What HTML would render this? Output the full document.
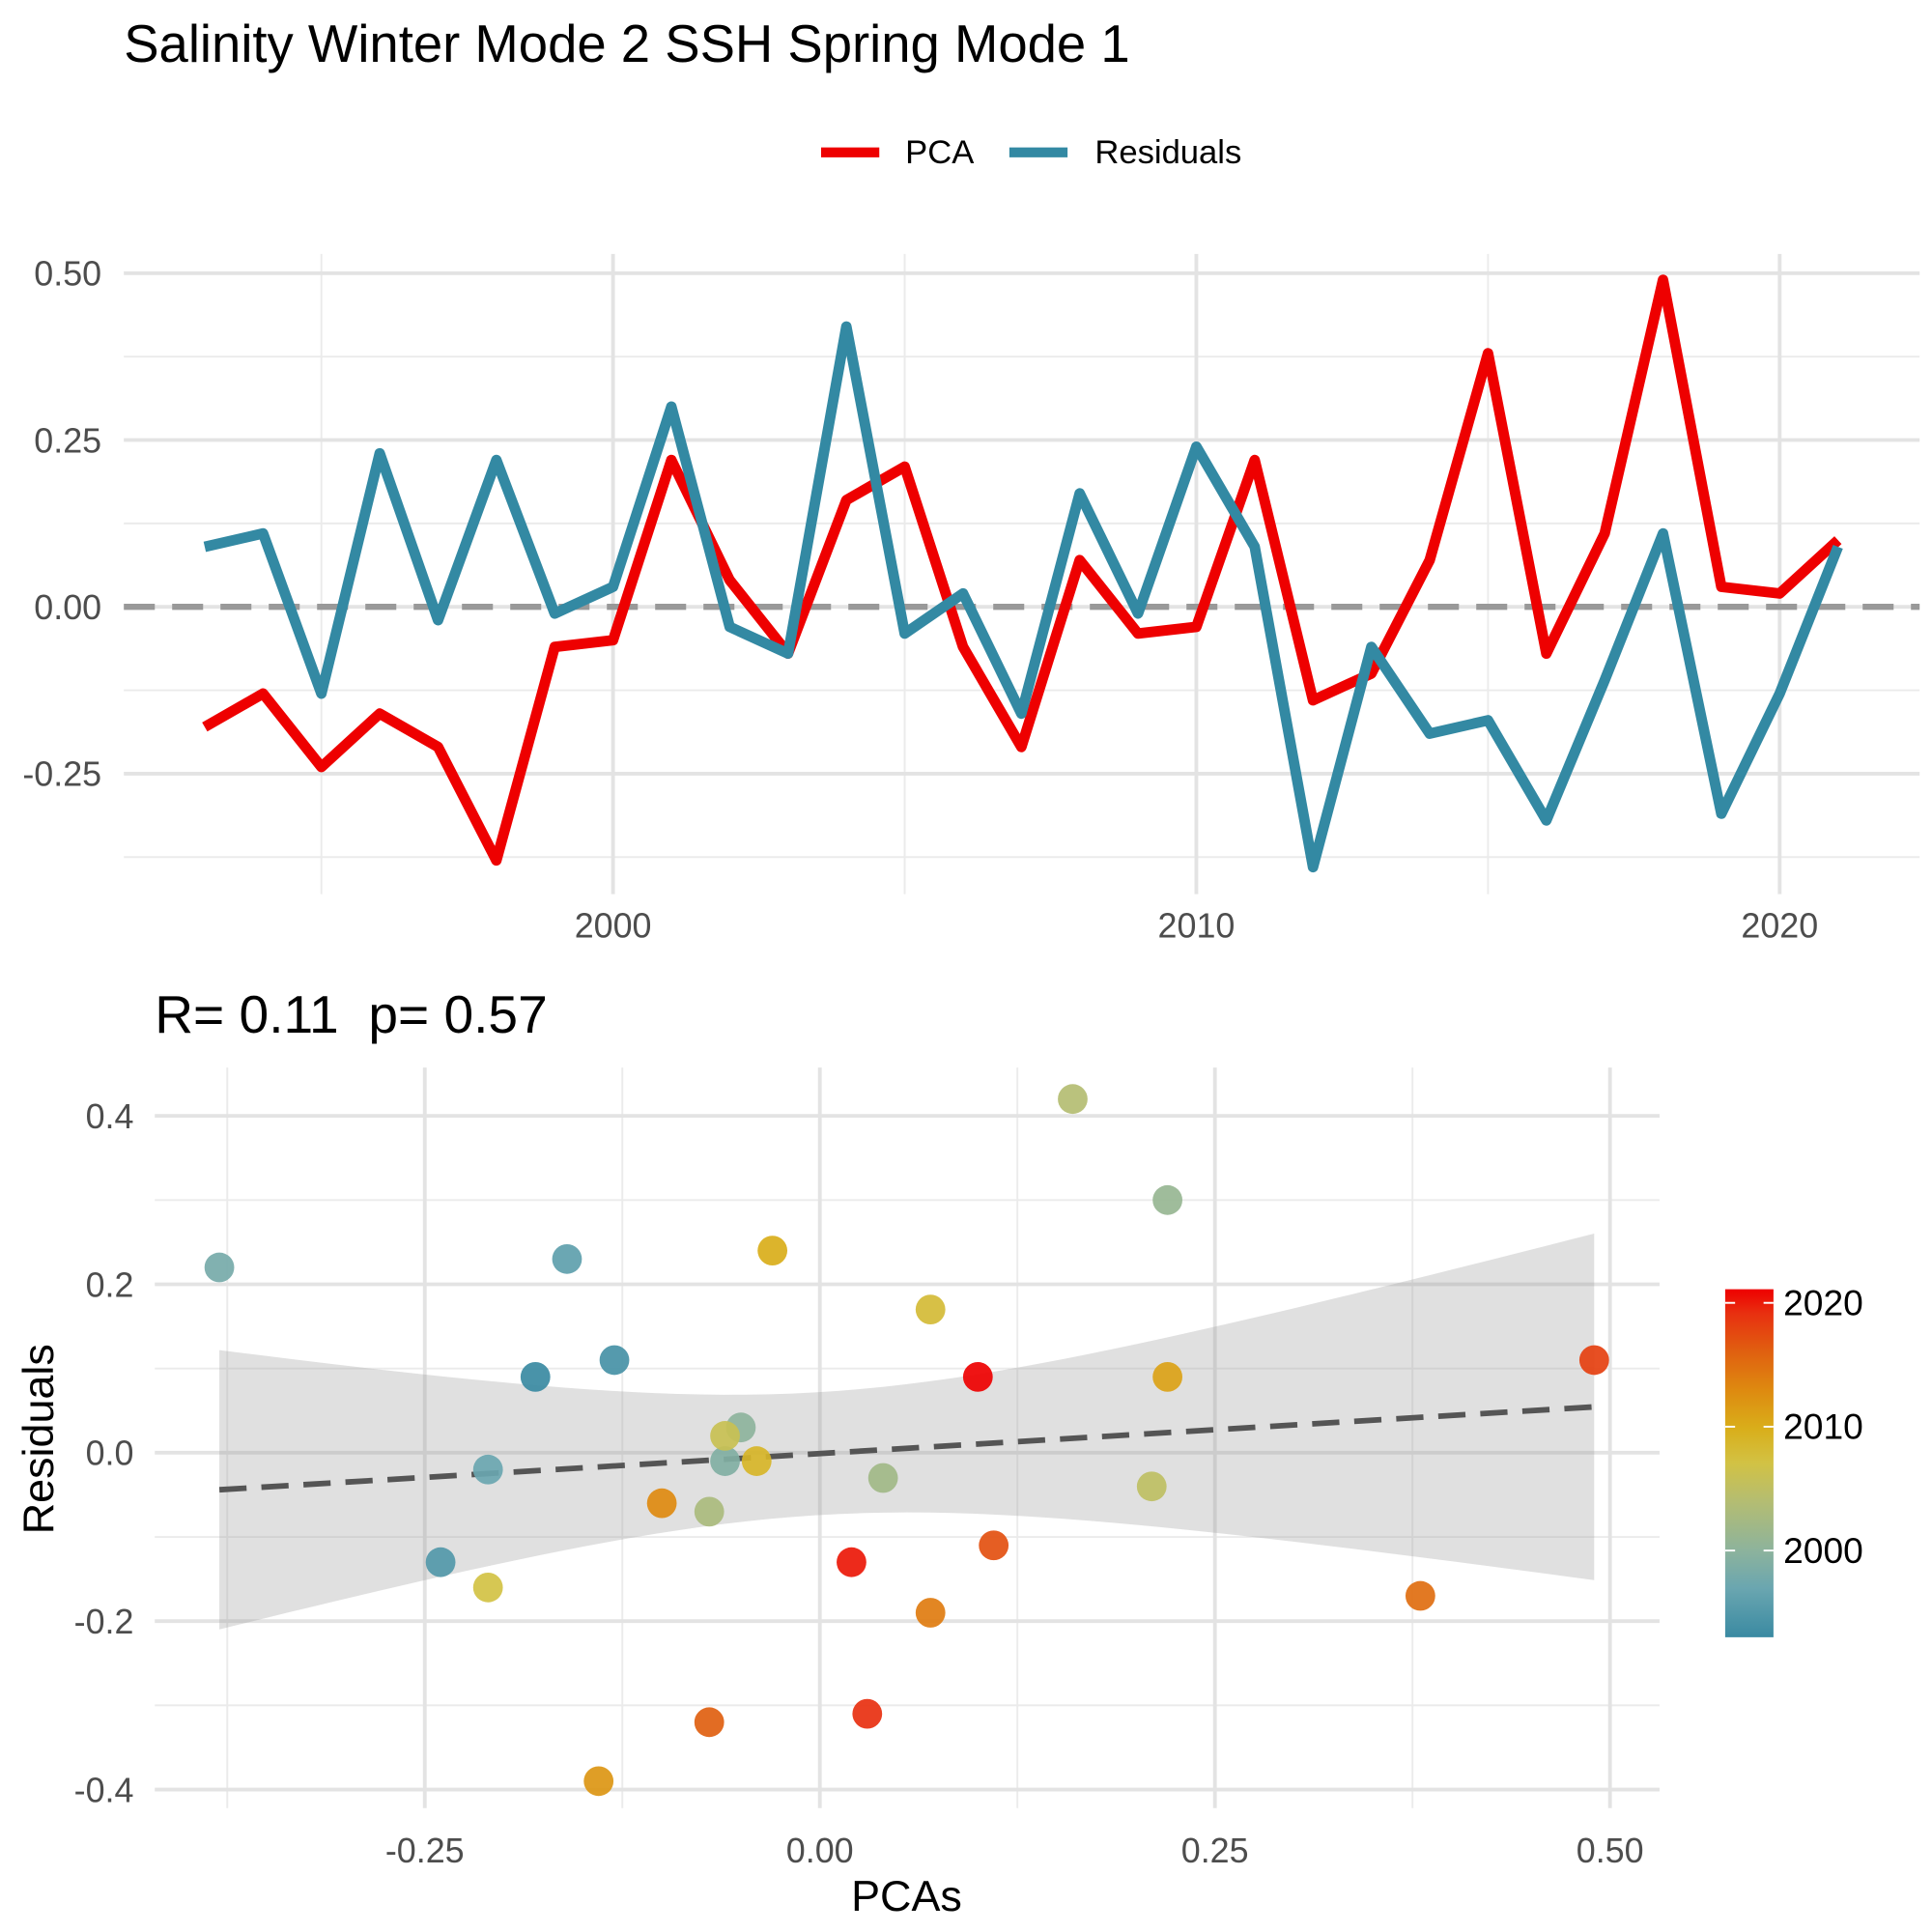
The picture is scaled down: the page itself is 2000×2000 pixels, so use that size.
<!DOCTYPE html>
<html><head><meta charset="utf-8"><style>
html,body{margin:0;padding:0;background:#fff}
svg{display:block;font-family:"Liberation Sans",Arial,sans-serif}
</style></head><body>
<svg id="fig" width="2000" height="2000" viewBox="0 0 1560 1560" xmlns="http://www.w3.org/2000/svg">
<defs>
<linearGradient id="cbar" x1="0" y1="1" x2="0" y2="0">
<stop offset="0" stop-color="#3A8AA2"/><stop offset="0.14" stop-color="#6AA6B0"/><stop offset="0.25" stop-color="#8DB39C"/><stop offset="0.39" stop-color="#B4BD72"/><stop offset="0.5" stop-color="#D2C244"/><stop offset="0.6" stop-color="#D9AE1A"/><stop offset="0.71" stop-color="#DE8A10"/><stop offset="0.82" stop-color="#E06010"/><stop offset="0.93" stop-color="#E83010"/><stop offset="1" stop-color="#EE0000"/>
</linearGradient>
<clipPath id="topclip"><rect x="100" y="200" width="1450" height="525"/></clipPath>
</defs>
<text x="100" y="50" font-size="42.5" fill="#000">Salinity Winter Mode 2 SSH Spring Mode 1</text>
<g>
<line x1="663" y1="123" x2="710" y2="123" stroke="#EE0000" stroke-width="8"/>
<text x="731" y="132" font-size="27" fill="#000">PCA</text>
<line x1="815" y1="123" x2="862" y2="123" stroke="#3389A3" stroke-width="8"/>
<text x="884" y="132" font-size="27" fill="#000">Residuals</text>
</g>
<g id="topPanel"></g>
<text x="125" y="834" font-size="43" fill="#000" style="white-space:pre" xml:space="preserve">R= 0.11  p= 0.57</text>
<g id="botPanel"></g>
<text x="732" y="1543" font-size="35" text-anchor="middle" fill="#000">PCAs</text>
<text transform="translate(43,1162) rotate(-90)" font-size="35" text-anchor="middle" fill="#000">Residuals</text>
<g>
<rect x="1393" y="1041" width="39" height="281" fill="url(#cbar)"/>
<g id="cbticks"></g>
</g>
</svg>
<script>
const years=[1993,1994,1995,1996,1997,1998,1999,2000,2001,2002,2003,2004,2005,2006,2007,2008,2009,2010,2011,2012,2013,2014,2015,2016,2017,2018,2019,2020,2021];
const pca=[-0.18,-0.13,-0.24,-0.16,-0.21,-0.38,-0.06,-0.05,0.22,0.04,-0.07,0.16,0.21,-0.06,-0.21,0.07,-0.04,-0.03,0.22,-0.14,-0.10,0.07,0.38,-0.07,0.11,0.49,0.03,0.02,0.10];
const resid=[0.09,0.11,-0.13,0.23,-0.02,0.22,-0.01,0.03,0.30,-0.03,-0.07,0.42,-0.04,0.02,-0.16,0.17,-0.01,0.24,0.09,-0.39,-0.06,-0.19,-0.17,-0.32,-0.11,0.11,-0.31,-0.13,0.09];
const topYTicks=[0.5,0.25,0,-0.25];
const topXTicks=[2000,2010,2020];
const botXTicks=[-0.25,0,0.25,0.5];
const botYTicks=[0.4,0.2,0,-0.2,-0.4];
const cbTicks=[2000,2010,2020];

const NS='http://www.w3.org/2000/svg';
function mk(parent,tag,attrs){const e=document.createElementNS(NS,tag);for(const k in attrs)e.setAttribute(k,attrs[k]);parent.appendChild(e);return e;}
const tx=y=>495+(y-2000)*47.1;
const ty=v=>490-v*538.8;
const sx=v=>662+v*1276;
const sy=v=>1173-v*680;
const cyy=y=>1052+(2020-y)*10;

const cStops=[[1993,[58,138,162]],[1997,[106,166,176]],[2000,[141,179,156]],[2004,[180,189,114]],[2007,[210,194,68]],[2010,[217,174,26]],[2013,[222,138,16]],[2016,[224,96,16]],[2019,[232,48,16]],[2021,[238,0,0]]];
function col(y){for(let i=0;i<cStops.length-1;i++){const a=cStops[i],b=cStops[i+1];if(y<=b[0]){const t=(y-a[0])/(b[0]-a[0]);return 'rgb('+a[1].map((c,j)=>Math.round(c+(b[1][j]-c)*t)).join(',')+')';}}return 'rgb(238,0,0)';}

const topG=document.getElementById('topPanel');
[0.375,0.125,-0.125,-0.375].forEach(v=>{const l=mk(topG,'line',{x1:100,x2:1550,y1:ty(v),y2:ty(v),stroke:'#EBEBEB','stroke-width':1.5});

});
[1995,2005,2015].forEach(v=>{const l=mk(topG,'line',{x1:tx(v),x2:tx(v),y1:205,y2:722,stroke:'#EBEBEB','stroke-width':1.5});

});
topYTicks.forEach(v=>{const l=mk(topG,'line',{x1:100,x2:1550,y1:ty(v),y2:ty(v),stroke:'#E3E3E3','stroke-width':3});


const t=mk(topG,'text',{x:82,y:ty(v)+10,'font-size':28,'text-anchor':'end',fill:'#4D4D4D'});t.textContent=v.toFixed(2);

});
topXTicks.forEach(v=>{const l=mk(topG,'line',{x1:tx(v),x2:tx(v),y1:205,y2:722,stroke:'#E3E3E3','stroke-width':3});


const t=mk(topG,'text',{x:tx(v),y:757,'font-size':28,'text-anchor':'middle',fill:'#4D4D4D'});t.textContent=v;

});
const zl=mk(topG,'line',{x1:100,x2:1550,y1:ty(0),y2:ty(0),stroke:'#999','stroke-width':5,'stroke-dasharray':'25 14'});


const g2=mk(topG,'g',{'clip-path':'url(#topclip)'});
const pl=mk(g2,'polyline',{points:years.map((y,i)=>tx(y)+','+ty(pca[i])).join(' '),fill:'none',stroke:'#EE0000','stroke-width':8.5,'stroke-linejoin':'round'});


const rl=mk(g2,'polyline',{points:years.map((y,i)=>tx(y)+','+ty(resid[i])).join(' '),fill:'none',stroke:'#3389A3','stroke-width':8.5,'stroke-linejoin':'round'});



const botG=document.getElementById('botPanel');
[-0.375,-0.125,0.125,0.375].forEach(v=>{const l=mk(botG,'line',{x1:sx(v),x2:sx(v),y1:862,y2:1460,stroke:'#EBEBEB','stroke-width':1.5});

});
[0.3,0.1,-0.1,-0.3].forEach(v=>{const l=mk(botG,'line',{x1:125,x2:1340,y1:sy(v),y2:sy(v),stroke:'#EBEBEB','stroke-width':1.5});

});
botXTicks.forEach(v=>{const l=mk(botG,'line',{x1:sx(v),x2:sx(v),y1:862,y2:1460,stroke:'#E3E3E3','stroke-width':3});


const t=mk(botG,'text',{x:sx(v),y:1504,'font-size':28,'text-anchor':'middle',fill:'#4D4D4D'});t.textContent=v.toFixed(2);

});
botYTicks.forEach(v=>{const l=mk(botG,'line',{x1:125,x2:1340,y1:sy(v),y2:sy(v),stroke:'#E3E3E3','stroke-width':3});


const t=mk(botG,'text',{x:108,y:sy(v)+10,'font-size':28,'text-anchor':'end',fill:'#4D4D4D'});t.textContent=v.toFixed(1);

});
const n=pca.length,xm=pca.reduce((a,b)=>a+b)/n,ym=resid.reduce((a,b)=>a+b)/n;
let sxx=0,sxy=0;pca.forEach((x,i)=>{sxx+=(x-xm)**2;sxy+=(x-xm)*(resid[i]-ym);});
const bb=sxy/sxx,aa=ym-bb*xm;let sse=0;pca.forEach((x,i)=>{sse+=(resid[i]-aa-bb*x)**2;});
const sig=Math.sqrt(sse/(n-2)),tc=2.052;
const xmin=Math.min(...pca),xmax=Math.max(...pca);
const up=[],lo=[];
for(let k=0;k<=60;k++){const x=xmin+(xmax-xmin)*k/60;const f=aa+bb*x;const h=tc*sig*Math.sqrt(1/n+(x-xm)**2/sxx);up.push(sx(x)+','+sy(f+h));lo.push(sx(x)+','+sy(f-h));}
const rib=mk(botG,'polygon',{points:up.concat(lo.reverse()).join(' '),fill:'#999','fill-opacity':0.3});


const rline=mk(botG,'line',{x1:sx(xmin),y1:sy(aa+bb*xmin),x2:sx(xmax),y2:sy(aa+bb*xmax),stroke:'#555','stroke-width':4.5,'stroke-dasharray':'22 12'});


years.forEach((y,i)=>{const c=mk(botG,'circle',{cx:sx(pca[i]),cy:sy(resid[i]),r:12,fill:col(y),'fill-opacity':0.92});

});

const cb=document.getElementById('cbticks');
cbTicks.forEach(y=>{
const l1=mk(cb,'line',{x1:1393,x2:1401,y1:cyy(y),y2:cyy(y),stroke:'#fff','stroke-width':1.5});


const l2=mk(cb,'line',{x1:1424,x2:1432,y1:cyy(y),y2:cyy(y),stroke:'#fff','stroke-width':1.5});


const t=mk(cb,'text',{x:1440,y:cyy(y)+10,'font-size':29,fill:'#000'});t.textContent=y;

});
</script>
</body></html>
